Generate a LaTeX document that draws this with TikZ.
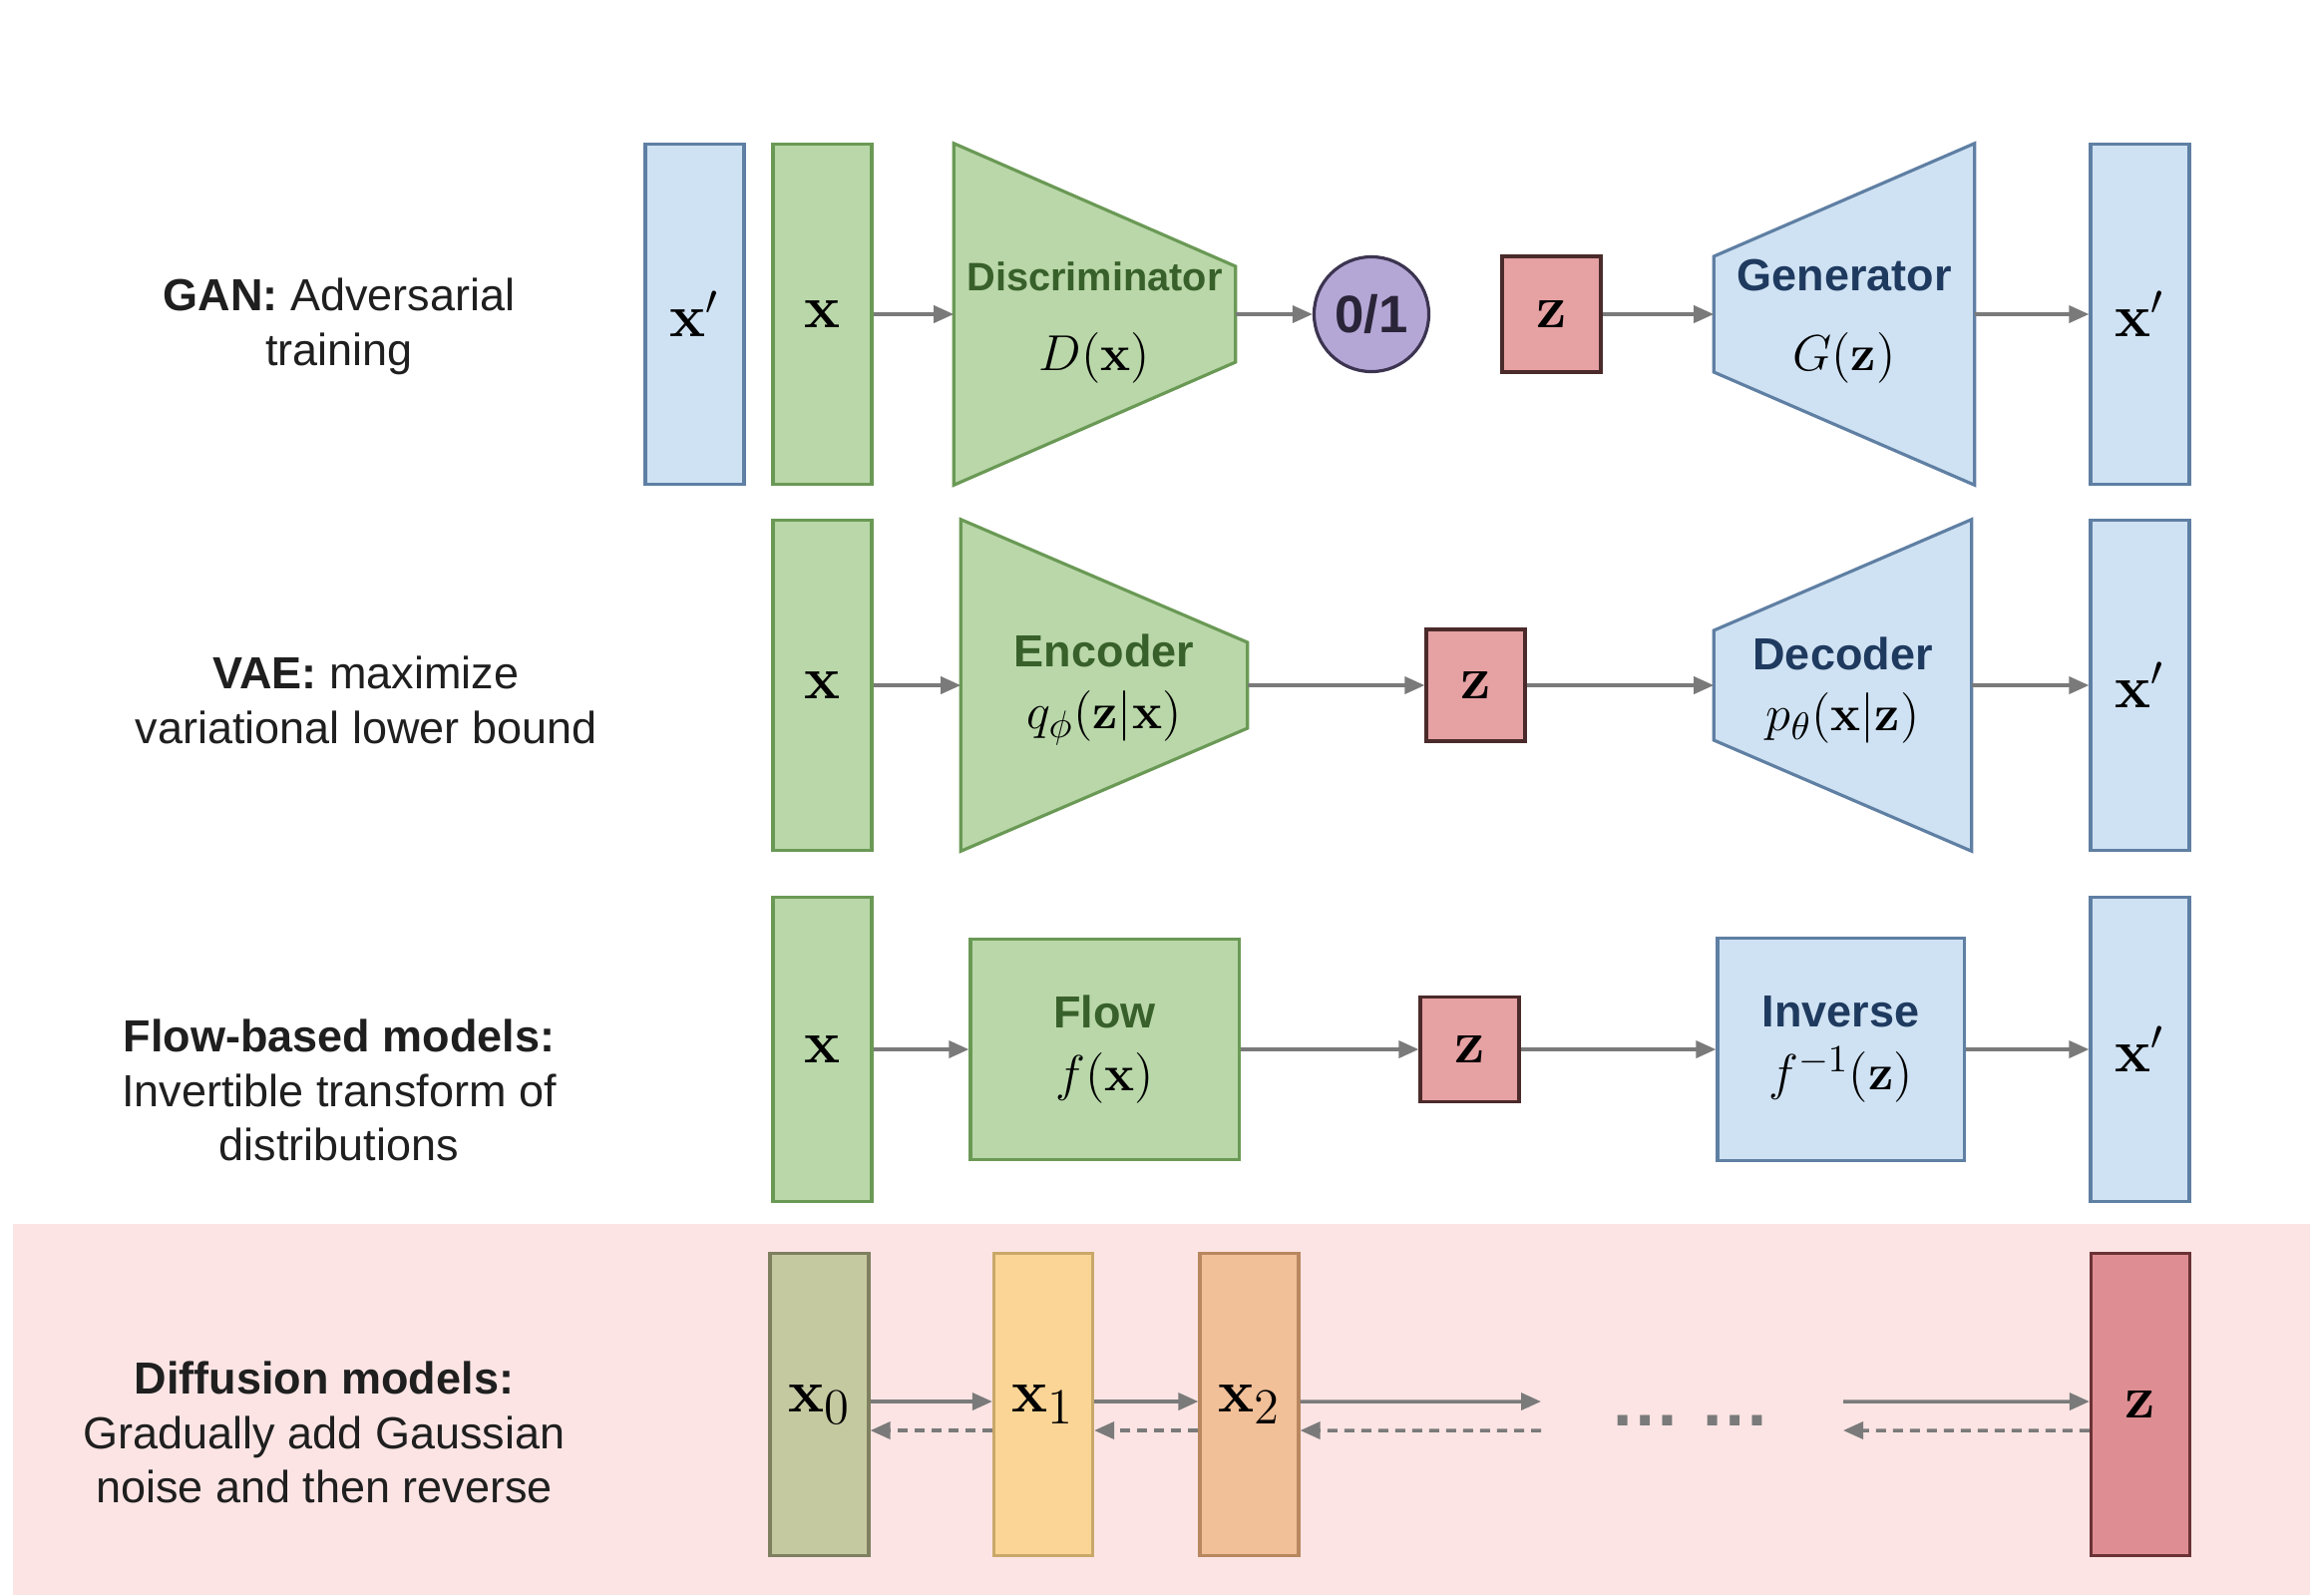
\documentclass[tikz,border=0pt]{standalone}
\usepackage[no-math]{fontspec}
\setmainfont{Liberation Sans}
\usetikzlibrary{arrows.meta,calc,backgrounds,positioning}

\definecolor{grnfill}{HTML}{B9D7A9}
\definecolor{grnline}{HTML}{6A9955}
\definecolor{grntext}{HTML}{38602A}
\definecolor{blufill}{HTML}{CFE2F3}
\definecolor{bluline}{HTML}{5F7FA3}
\definecolor{blutext}{HTML}{1F3A5F}
\definecolor{redfill}{HTML}{E6A1A3}
\definecolor{redline}{HTML}{4A2A2A}
\definecolor{purfill}{HTML}{B4A7D6}
\definecolor{purline}{HTML}{3C3450}
\definecolor{arrgray}{HTML}{7A7A7A}
\definecolor{pinkbg}{HTML}{FCE4E4}
\definecolor{olvfill}{HTML}{C5C9A0}
\definecolor{olvline}{HTML}{7E8060}
\definecolor{yelfill}{HTML}{FAD595}
\definecolor{yelline}{HTML}{C9A86A}
\definecolor{pchfill}{HTML}{F1BF98}
\definecolor{pchline}{HTML}{B8875F}
\definecolor{rosfill}{HTML}{DE8E92}
\definecolor{rosline}{HTML}{6B3236}

\tikzset{
  bar/.style={draw, line width=0.9pt, minimum width=0.99cm, inner sep=0pt,
    font=\fontsize{17}{17}\selectfont},
  grnbar/.style={bar, fill=grnfill, draw=grnline},
  blubar/.style={bar, fill=blufill, draw=bluline},
  zbox/.style={draw=redline, fill=redfill, line width=0.9pt, inner sep=0pt,
    minimum width=0.99cm, minimum height=1.12cm, font=\fontsize{16}{16}\selectfont},
  trap/.style={inner sep=0pt, align=center, font=\fontsize{12.8}{16}\selectfont},
  grnshape/.style={fill=grnfill, draw=grnline, line width=0.9pt},
  blushape/.style={fill=blufill, draw=bluline, line width=0.9pt},
  grnblk/.style={trap, grnshape},
  blublk/.style={trap, blushape},
  arr/.style={draw=arrgray, line width=1pt, -{Triangle[length=0.2cm,width=0.17cm]}},
  backarr/.style={arr, dash pattern=on 0.1cm off 0.07cm},
  lbl/.style={align=center, text=black!88, font=\fontsize{12.8}{15.6}\selectfont},
  dbar/.style={bar, minimum height=3.03cm, font=\fontsize{19}{19}\selectfont}
}

\begin{document}
\begin{tikzpicture}[x=0.01cm, y=-0.01cm]
  \useasboundingbox (0,0) rectangle (2316,1599);

  % row labels
  \node[lbl] (ganlbl) at (340,327) {\textbf{GAN:} Adversarial\\training};
  \node[lbl] (vaelbl) at (367,702) {\textbf{VAE:} maximize\\variational lower bound};
  \node[lbl] (flwlbl) at (340,1093) {\textbf{Flow-based models:}\\Invertible transform of\\distributions};
  \node[lbl] (difflbl) at (325,1436) {\textbf{Diffusion models:}\\Gradually add Gaussian\\noise and then reverse};

  % GAN
  \node[blubar, minimum height=3.41cm] (ganxp) at (696.5,315) {$\mathbf{x}'$};
  \node[grnbar, minimum height=3.40cm] (ganx) at (824.5,315) {$\mathbf{x}$};
  \node[trap, minimum width=2.81cm, minimum height=3.41cm] (disc) at (1097.5,315)
    {\rule{0pt}{13pt}{\color{grntext}\bfseries\fontsize{11.3}{14}\selectfont Discriminator}\\[7pt]
     {\fontsize{15.5}{16}\selectfont$D(\mathbf{x})$}};
  \node[circle, draw=purline, fill=purfill, line width=0.9pt, minimum size=1.15cm,
    inner sep=0pt, text=purline!70!black, font=\bfseries\fontsize{15}{15}\selectfont] (gancls) at (1375,315) {0/1};
  \node[zbox, minimum height=1.16cm] (ganz) at (1555.5,315) {$\mathbf{z}$};
  \node[trap, minimum width=2.60cm, minimum height=3.41cm] (gen) at (1849,315)
    {\rule{0pt}{13pt}{\color{blutext}\bfseries Generator}\\[7pt]
     {\fontsize{15.5}{16}\selectfont$G(\mathbf{z})$}};
  \node[blubar, minimum height=3.41cm] (ganxo) at (2145.5,315) {$\mathbf{x}'$};

  \draw[arr] (ganx.east) -- (disc.west);
  \draw[arr] (disc.east) -- (gancls.west);
  \draw[arr] (ganz.east) -- (gen.west);
  \draw[arr] (gen.east) -- (ganxo.west);

  % VAE
  \node[grnbar, minimum height=3.31cm] (vaex) at (824.5,687) {$\mathbf{x}$};
  \node[trap, minimum width=2.86cm, minimum height=3.31cm] (enc) at (1107,687)
    {\rule{0pt}{12pt}{\color{grntext}\bfseries Encoder}\\[1.5pt]
     {\fontsize{15.5}{16}\selectfont$q_\phi(\mathbf{z}|\mathbf{x})$}};
  \node[zbox] (vaez) at (1479.5,687) {$\mathbf{z}$};
  \node[trap, minimum width=2.57cm, minimum height=3.31cm] (dec) at (1847.5,687)
    {\rule{0pt}{12pt}{\color{blutext}\bfseries Decoder}\\[1.5pt]
     {\fontsize{15.5}{16}\selectfont$p_\theta(\mathbf{x}|\mathbf{z})$}};
  \node[blubar, minimum height=3.31cm] (vaexo) at (2145.5,687) {$\mathbf{x}'$};

  \draw[arr] (vaex.east) -- (enc.west);
  \draw[arr] (enc.east) -- (vaez.west);
  \draw[arr] (vaez.east) -- (dec.west);
  \draw[arr] (dec.east) -- (vaexo.west);

  % flow
  \node[grnbar, minimum height=3.05cm] (flwx) at (824.5,1052) {$\mathbf{x}$};
  \node[grnblk, minimum width=2.69cm, minimum height=2.21cm] (flow) at (1107.5,1052)
    {{\color{grntext}\bfseries Flow}\\[2pt]
     {\fontsize{15.5}{16}\selectfont$f(\mathbf{x})$}};
  \node[zbox, minimum height=1.05cm] (flwz) at (1473.5,1052) {$\mathbf{z}$};
  \node[blublk, minimum width=2.47cm, minimum height=2.23cm] (inv) at (1845.5,1052)
    {{\color{blutext}\bfseries Inverse}\\[2pt]
     {\fontsize{15.5}{16}\selectfont$f^{-1}(\mathbf{z})$}};
  \node[blubar, minimum height=3.05cm] (flwxo) at (2145.5,1052) {$\mathbf{x}'$};

  \draw[arr] (flwx.east) -- (flow.west);
  \draw[arr] (flow.east) -- (flwz.west);
  \draw[arr] (flwz.east) -- (inv.west);
  \draw[arr] (inv.east) -- (flwxo.west);

  % diffusion
  \node[dbar, fill=olvfill, draw=olvline] (dx0) at (821.5,1408) {$\mathbf{x}_0$};
  \node[dbar, fill=yelfill, draw=yelline] (dx1) at (1046,1408) {$\mathbf{x}_1$};
  \node[dbar, fill=pchfill, draw=pchline] (dx2) at (1252.5,1408) {$\mathbf{x}_2$};
  \node[dbar, fill=rosfill, draw=rosline] (dz) at (2146,1408) {$\mathbf{z}$};
  \node[text=arrgray, font=\bfseries\fontsize{20}{20}\selectfont] (dots) at (1695,1424) {\dots\ \dots};
  \coordinate (fwdend) at (1545,1405);
  \coordinate (fwdbeg) at (1848,1405);
  \coordinate (bckbeg) at (1545,1434);
  \coordinate (bckend) at (1848,1434);

  \draw[arr] ([yshift=0.03cm]dx0.east) -- ([yshift=0.03cm]dx1.west);
  \draw[arr] ([yshift=0.03cm]dx1.east) -- ([yshift=0.03cm]dx2.west);
  \draw[arr] ([yshift=0.03cm]dx2.east) -- (fwdend);
  \draw[arr] (fwdbeg) -- ([yshift=0.03cm]dz.west);
  \draw[backarr] ([yshift=-0.26cm]dx1.west) -- ([yshift=-0.26cm]dx0.east);
  \draw[backarr] ([yshift=-0.26cm]dx2.west) -- ([yshift=-0.26cm]dx1.east);
  \draw[backarr] (bckbeg) -- ([yshift=-0.26cm]dx2.east);
  \draw[backarr] ([yshift=-0.26cm]dz.west) -- (bckend);

  \begin{scope}[on background layer]
    \fill[pinkbg] (13,1227) rectangle (2316,1599);
    \draw[grnshape] (disc.north west) -- ($(disc.east)+(0,-48)$) -- ($(disc.east)+(0,48)$) -- (disc.south west) -- cycle;
    \draw[blushape] ($(gen.west)+(0,-58)$) -- (gen.north east) -- (gen.south east) -- ($(gen.west)+(0,58)$) -- cycle;
    \draw[grnshape] (enc.north west) -- ($(enc.east)+(0,-43)$) -- ($(enc.east)+(0,43)$) -- (enc.south west) -- cycle;
    \draw[blushape] ($(dec.west)+(0,-55)$) -- (dec.north east) -- (dec.south east) -- ($(dec.west)+(0,55)$) -- cycle;
  \end{scope}
\end{tikzpicture}
\end{document}
